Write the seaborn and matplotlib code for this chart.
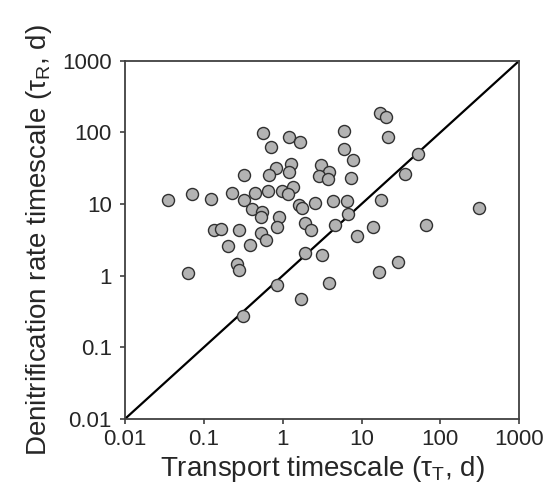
import matplotlib
matplotlib.use("Agg")
import matplotlib.pyplot as plt
import seaborn as sns
import pandas as pd
from matplotlib.ticker import FixedLocator, FixedFormatter, NullLocator

transport_d = [0.0346, 0.0694, 0.1225, 0.224, 0.324, 0.443, 0.655, 0.324, 0.566, 0.705,
               0.815, 0.668, 1.207, 1.654, 1.261, 1.207, 0.968, 1.360, 1.175, 1.607,
               1.738, 0.403, 0.539, 0.528, 0.887, 0.851, 0.1336, 0.163, 0.275, 0.528,
               0.607, 0.203, 0.384, 0.063, 0.262, 0.278, 0.845, 0.313, 17.2, 20.3,
               21.6, 6.0, 6.02, 7.73, 7.29, 3.03, 3.90, 2.91, 3.79, 2.57,
               4.31, 6.48, 17.4, 52.6, 35.3, 6.79, 1.91, 2.28, 4.60, 14.0,
               8.84, 65.5, 313, 1.91, 3.19, 3.86, 1.70, 16.7, 28.6]
denit_d = [11.3, 13.7, 11.7, 14.2, 11.5, 14.3, 15.4, 25.3, 97.5, 62.2,
           31.6, 25.3, 85.3, 73.1, 36.1, 28.4, 15.4, 17.2, 14.0, 9.71,
           8.87, 8.61, 7.67, 6.66, 6.56, 4.83, 4.27, 4.44, 4.34, 3.91,
           3.12, 2.55, 2.64, 1.08, 1.46, 1.20, 0.739, 0.273, 189, 162,
           85.3, 105, 59.3, 41.3, 23.4, 35.2, 28.1, 24.9, 22.2, 10.3,
           11.1, 11.1, 11.4, 49.7, 26.3, 7.27, 5.44, 4.27, 5.15, 4.75,
           3.60, 5.10, 8.90, 2.07, 1.96, 0.781, 0.467, 1.12, 1.57]
one_to_one = [0.01, 1000]
tick_values = [0.01, 0.1, 1, 10, 100, 1000]
tick_labels = ["0.01", "0.1", "1", "10", "100", "1000"]

sns.set_style("white")
plt.rcParams["font.family"] = ["Liberation Sans", "DejaVu Sans"]
plt.rcParams["mathtext.fontset"] = "custom"
plt.rcParams["mathtext.rm"] = "Liberation Sans"
plt.rcParams["mathtext.it"] = "Liberation Sans"

df = pd.DataFrame({"transport": transport_d, "denit": denit_d})
line_df = pd.DataFrame({"x": one_to_one, "y": one_to_one})

fig = plt.figure(figsize=(5.47, 4.99), dpi=100)
ax = fig.add_axes([0.229, 0.161, 0.720, 0.717])
ax.set_xscale("log")
ax.set_yscale("log")

sns.lineplot(data=line_df, x="x", y="y", ax=ax, color="black", linewidth=1.6, zorder=2)
sns.scatterplot(data=df, x="transport", y="denit", ax=ax, s=75, color="#b3b3b3",
                edgecolor="#303030", linewidth=1.0, zorder=3)

ax.set_xlim(0.01, 1000)
ax.set_ylim(0.01, 1000)
for axis in (ax.xaxis, ax.yaxis):
    axis.set_major_locator(FixedLocator(tick_values))
    axis.set_major_formatter(FixedFormatter(tick_labels))
    axis.set_minor_locator(NullLocator())

ax.tick_params(axis="both", which="major", direction="out", length=3.6, width=1.2,
               color="#404040", labelsize=16)
ax.tick_params(axis="x", bottom=True, pad=4)
ax.tick_params(axis="y", left=True, pad=6)
for sp in ax.spines.values():
    sp.set_visible(True)
    sp.set_color("#404040")
    sp.set_linewidth(1.3)

ax.set_xlabel(r"Transport timescale ($\tau_T$, d)", fontsize=20, labelpad=3)
ax.set_ylabel(r"Denitrification rate timescale ($\tau_R$, d)", fontsize=20, labelpad=6)

fig.savefig("out.png", dpi=100)
